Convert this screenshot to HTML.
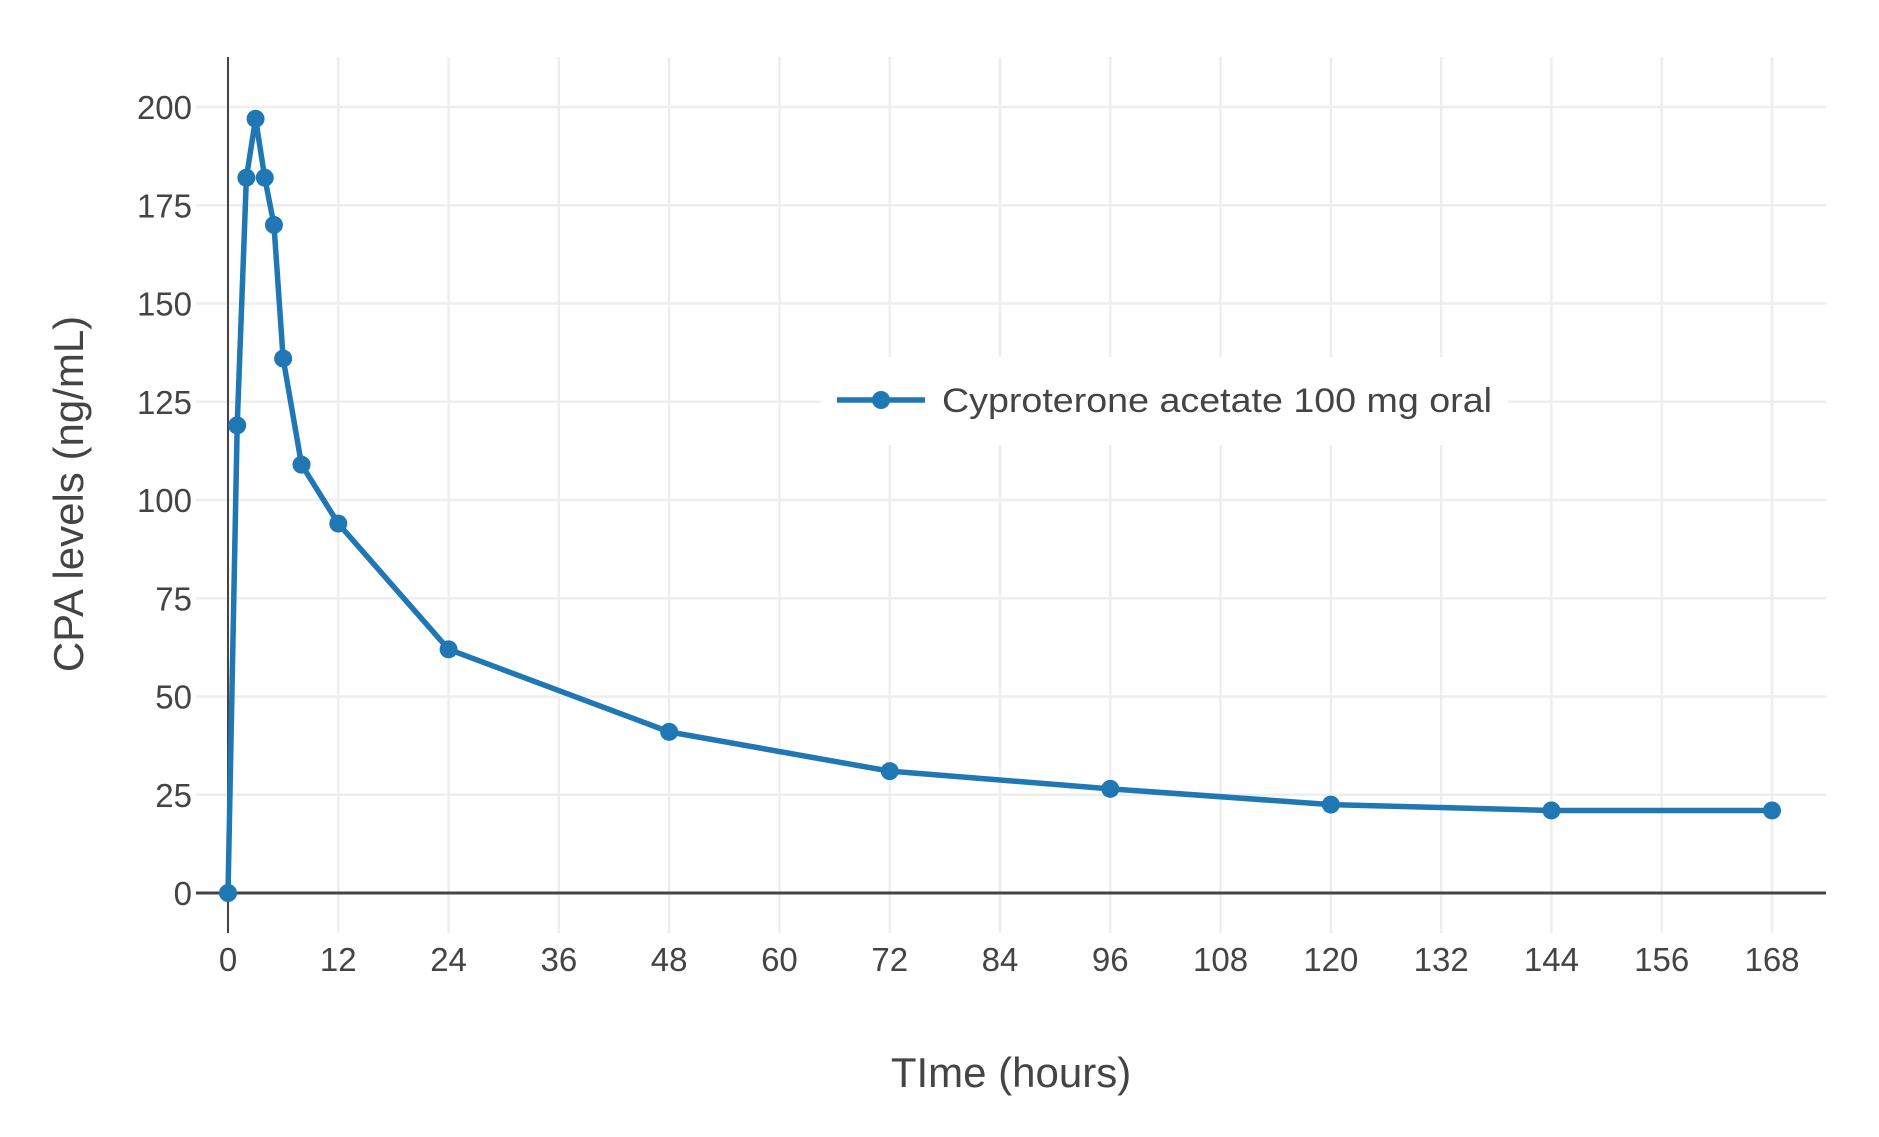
<!DOCTYPE html>
<html><head><meta charset="utf-8"><style>
body{margin:0;background:#fff}
svg{display:block;font-family:"Liberation Sans",sans-serif}
</style></head><body>
<svg id="chart" width="1879" height="1137" viewBox="0 0 1879 1137">
<g id="grid"></g>
<g id="axes"></g>
<g id="series"></g>
<g id="legend">
<rect x="821" y="357" width="687" height="88" fill="#fff"/>
<line x1="837" y1="400" x2="925" y2="400" stroke="#1f77b4" stroke-width="5.5"/>
<circle cx="881" cy="400" r="9" fill="#1f77b4"/>
<text x="942" y="412" font-size="34" fill="#444" textLength="550" lengthAdjust="spacingAndGlyphs">Cyproterone acetate 100 mg oral</text>
</g>
<text x="1011" y="1087" font-size="42" fill="#444" text-anchor="middle">TIme (hours)</text>
<text transform="translate(83,494) rotate(-90)" font-size="42" fill="#444" text-anchor="middle">CPA levels (ng/mL)</text>
</svg>
<script>
const times=[0,1,2,3,4,5,6,8,12,24,48,72,96,120,144,168];
const levels=[0,119,182,197,182,170,136,109,94,62,41,31,26.5,22.5,21,21];
const xTicks=[0,12,24,36,48,60,72,84,96,108,120,132,144,156,168];
const yTicks=[0,25,50,75,100,125,150,175,200];
const NS="http://www.w3.org/2000/svg";
const X0=228,X1=1772,Y0=893,Y1=107;
const xs=v=>X0+(X1-X0)*v/168;
const ys=v=>Y0-(Y0-Y1)*v/200;
function mk(tag,attrs,parent){const e=document.createElementNS(NS,tag);for(const k in attrs)e.setAttribute(k,attrs[k]);parent.appendChild(e);return e;}
const grid=document.getElementById('grid'),axes=document.getElementById('axes'),ser=document.getElementById('series');
xTicks.forEach(t=>{
 const l=mk('line',{x1:xs(t),x2:xs(t),y1:57,y2:933,stroke:'#eee','stroke-width':2.5},grid);
 
 
 const tx=mk('text',{x:xs(t),y:971,'font-size':33,fill:'#444','text-anchor':'middle'},axes);
 tx.textContent=t;
 
 
});
yTicks.forEach(t=>{
 const l=mk('line',{x1:196,x2:1826,y1:ys(t),y2:ys(t),stroke:'#eee','stroke-width':2.5},grid);
 
 
 const tx=mk('text',{x:192,y:ys(t)+12,'font-size':33,fill:'#444','text-anchor':'end'},axes);
 tx.textContent=t;
 
 
});
const za=mk('line',{x1:196,x2:1826,y1:ys(0),y2:ys(0),stroke:'#444','stroke-width':3},axes);


const ya=mk('line',{x1:xs(0),x2:xs(0),y1:57,y2:933,stroke:'#444','stroke-width':2},axes);


const pts=times.map((t,i)=>xs(t)+','+ys(levels[i])).join(' ');
const pl=mk('polyline',{points:pts,fill:'none',stroke:'#1f77b4','stroke-width':5.5,'stroke-linejoin':'round'},ser);


times.forEach((t,i)=>{
 const c=mk('circle',{cx:xs(t),cy:ys(levels[i]),r:9,fill:'#1f77b4'},ser);
 
 
});
</script>
</body></html>
